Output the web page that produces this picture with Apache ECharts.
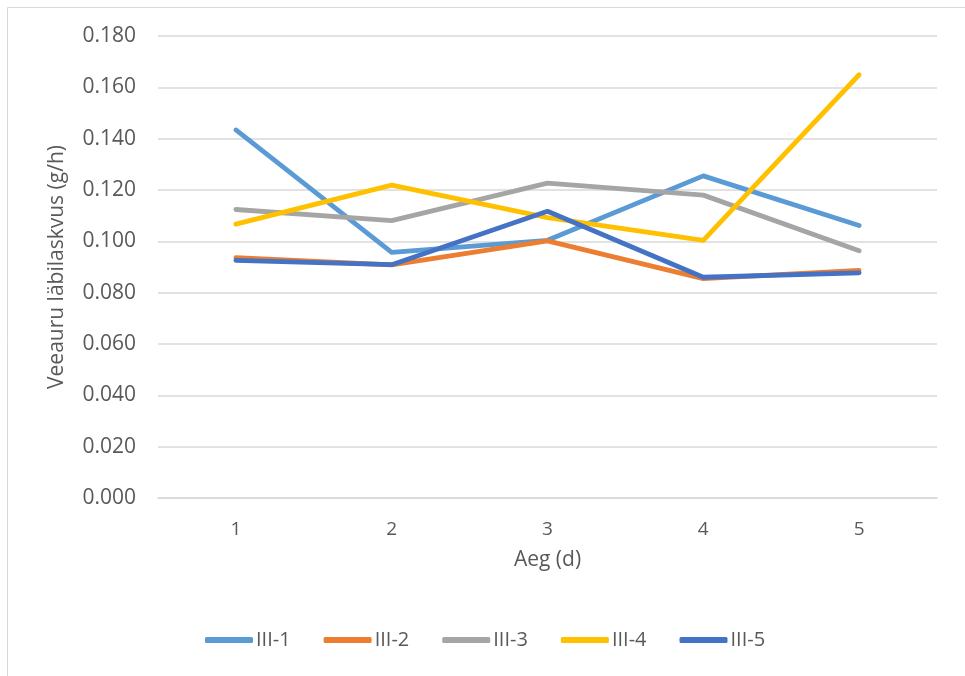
<!DOCTYPE html>
<html>
<head>
<meta charset="utf-8">
<script src="https://cdn.jsdelivr.net/npm/echarts@6/dist/echarts.min.js"></script>
<style>
  html, body { margin: 0; padding: 0; background: #fff; }
  #chart { width: 965px; height: 676px; }
</style>
</head>
<body>
<div id="chart"></div>
<script>
// Days on the x axis
var days = ['1', '2', '3', '4', '5'];

// Water vapour transmission rate (g/h) per specimen
var s1 = [0.1434, 0.0957, 0.1004, 0.1255, 0.1062];
var s2 = [0.0936, 0.0908, 0.1002, 0.0855, 0.0887];
var s3 = [0.1124, 0.1081, 0.1227, 0.1180, 0.0963];
var s4 = [0.1067, 0.1219, 0.1092, 0.1004, 0.1649];
var s5 = [0.0926, 0.0909, 0.1117, 0.0860, 0.0877];

var seriesNames = ['III-1', 'III-2', 'III-3', 'III-4', 'III-5'];
var seriesData = [s1, s2, s3, s4, s5];
var colors = ['#5B9BD5', '#ED7D31', '#A5A5A5', '#FFC000', '#4472C4'];

var FONT = '"Open Sans", "Noto Sans", sans-serif';
var TEXT = '#595959';

var chart = echarts.init(document.getElementById('chart'), null, { renderer: 'canvas' });

chart.setOption({
  animation: false,
  backgroundColor: '#ffffff',
  color: colors,
  textStyle: { fontFamily: FONT },
  graphic: [{
    type: 'rect',
    shape: { x: 7.5, y: 7.5, width: 980, height: 700 },
    style: { fill: 'none', stroke: '#D9D9D9', lineWidth: 1 },
    silent: true,
    z: -1
  }],
  grid: { left: 158, right: 28, top: 36, bottom: 178, containLabel: false },
  legend: {
    left: 205,
    top: 630,
    padding: 0,
    itemWidth: 48,
    itemHeight: 6,
    itemGap: 33,
    icon: 'roundRect',
    textStyle: { color: TEXT, fontSize: 20, fontFamily: FONT, padding: [0, 0, 0, -2] },
    data: seriesNames
  },
  xAxis: {
    type: 'category',
    data: days,
    boundaryGap: true,
    name: 'Aeg (d)',
    nameLocation: 'middle',
    nameGap: 52,
    nameTextStyle: { color: TEXT, fontSize: 21, fontFamily: FONT },
    axisLine: { show: true, lineStyle: { color: '#D9D9D9', width: 1.5 } },
    axisTick: { show: false },
    axisLabel: { color: TEXT, fontSize: 19, fontFamily: FONT, margin: 22 }
  },
  yAxis: {
    type: 'value',
    min: 0,
    max: 0.18,
    interval: 0.02,
    name: 'Veeauru läbilaskvus (g/h)',
    nameLocation: 'middle',
    nameGap: 90,
    nameTextStyle: { color: TEXT, fontSize: 21, fontFamily: FONT },
    axisLine: { show: false },
    axisTick: { show: false },
    axisLabel: {
      color: TEXT, fontSize: 21, fontFamily: FONT, margin: 22,
      formatter: function (v) { return v.toFixed(3); }
    },
    splitLine: { show: true, lineStyle: { color: '#D9D9D9', width: 1.5 } }
  },
  series: seriesNames.map(function (name, i) {
    return {
      name: name,
      type: 'line',
      data: seriesData[i],
      showSymbol: false,
      symbol: 'none',
      lineStyle: { width: 4.8, color: colors[i], cap: 'round', join: 'round' },
      itemStyle: { color: colors[i] },
      emphasis: { disabled: true }
    };
  })
});
</script>
</body>
</html>
